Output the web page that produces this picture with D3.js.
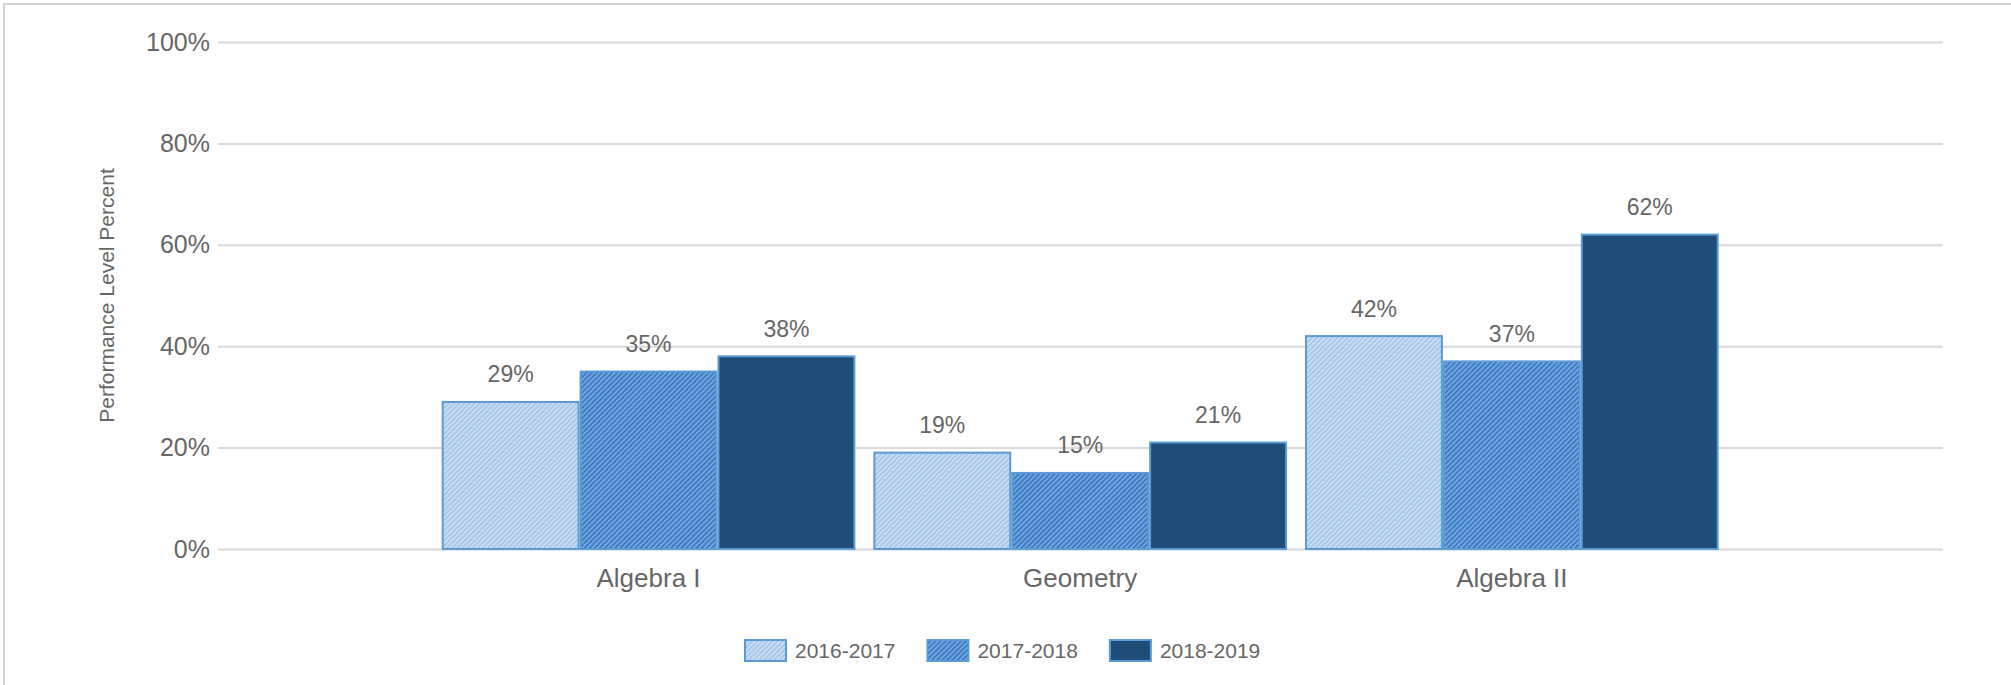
<!DOCTYPE html>
<html lang="en">
<head>
<meta charset="UTF-8">
<title>Performance Level Percent</title>
<script src="https://d3js.org/d3.v7.min.js"></script>
<style>
  html, body { margin: 0; padding: 0; background: #fff; }
  text { font-family: "Liberation Sans", Arial, sans-serif; fill: #666; }
</style>
</head>
<body>
<div id="chart"></div>
<script>
    // Data
    const categories = ["Algebra I", "Geometry", "Algebra II"];
    const years = ["2016-2017", "2017-2018", "2018-2019"];
    const values2016 = [29, 19, 42];
    const values2017 = [35, 15, 37];
    const values2018 = [38, 21, 62];
    const yTicks = [0, 20, 40, 60, 80, 100];

    const series = [values2016, values2017, values2018];
    const W = 2011, H = 685;
    const plot = {left: 218, right: 1943, top: 42, bottom: 549};

    const svg = d3.select("#chart").append("svg")
        .attr("width", W)
        .attr("height", H);

    // hatch patterns for the first two series
    const defs = svg.append("defs");
    function hatch(id, base, stripe) {
        const p = defs.append("pattern")
            .attr("id", id)
            .attr("patternUnits", "userSpaceOnUse")
            .attr("width", 3.6)
            .attr("height", 3.6)
            .attr("patternTransform", "rotate(45)");
        p.append("rect").attr("width", 3.6).attr("height", 3.6).attr("fill", base);
        p.append("rect").attr("width", 1.3).attr("height", 3.6).attr("fill", stripe);
    }
    hatch("hatch1", "#a9c7ea", "#d5e5f6");
    hatch("hatch2", "#3c7cc6", "#86b5e4");
    const fills = ["url(#hatch1)", "url(#hatch2)", "#1f4d78"];
    const stroke = "#5b9bd5";

    // outer frame (only top and left edges are visible)
    svg.append("rect")
        .attr("x", 4).attr("y", 4)
        .attr("width", W + 20).attr("height", H + 20)
        .attr("fill", "none")
        .attr("stroke", "#d4d4d4")
        .attr("stroke-width", 2);

    // scales
    const y = d3.scaleLinear().domain([0, 100]).range([plot.bottom, plot.top]);
    const x0 = d3.scaleBand()
        .domain(categories)
        .range([432.7, 1727.7])
        .paddingInner(18 / 432)
        .paddingOuter(9 / 432);
    const x1 = d3.scaleBand()
        .domain(years)
        .range([0, x0.bandwidth()])
        .padding(0);

    // Y axis: gridlines + labels
    const yAxis = svg.append("g")
        .attr("transform", `translate(${plot.left},0)`)
        .call(d3.axisLeft(y)
            .tickValues(yTicks)
            .tickSize(-(plot.right - plot.left))
            .tickPadding(8)
            .tickFormat(d => d + "%"));
    yAxis.select(".domain").remove();
    yAxis.selectAll(".tick line").attr("stroke", "#d9d9d9").attr("stroke-width", 2);
    yAxis.selectAll(".tick text")
        .style("font-size", "25px")
        .attr("fill", "#666");

    // Y axis title
    svg.append("text")
        .attr("transform", `translate(106,${(plot.top + plot.bottom) / 2}) rotate(-90)`)
        .attr("text-anchor", "middle")
        .attr("dominant-baseline", "central")
        .style("font-size", "21px")
        .text("Performance Level Percent");

    // X axis labels
    const xAxis = svg.append("g")
        .attr("transform", `translate(0,${plot.bottom})`)
        .call(d3.axisBottom(x0).tickSize(0).tickPadding(20));
    xAxis.select(".domain").remove();
    xAxis.selectAll(".tick text")
        .style("font-size", "26px")
        .attr("fill", "#666");

    // bars
    const rows = categories.map((c, i) => ({cat: c, vals: years.map((yr, j) => ({year: yr, s: j, v: series[j][i]}))}));
    const groups = svg.append("g").selectAll("g")
        .data(rows)
        .join("g")
        .attr("transform", d => `translate(${x0(d.cat)},0)`);

    groups.selectAll("rect")
        .data(d => d.vals)
        .join("rect")
        .attr("x", d => x1(d.year) + 1)
        .attr("y", d => y(d.v))
        .attr("width", x1.bandwidth() - 2)
        .attr("height", d => y(0) - y(d.v))
        .attr("fill", d => fills[d.s])
        .attr("stroke", stroke)
        .attr("stroke-width", 2);

    groups.selectAll("text.val")
        .data(d => d.vals)
        .join("text")
        .attr("class", "val")
        .attr("x", d => x1(d.year) + x1.bandwidth() / 2)
        .attr("y", d => y(d.v) - 19.5)
        .attr("text-anchor", "middle")
        .style("font-size", "23px")
        .text(d => d.v + "%");

    // legend
    const legend = svg.append("g");
    let cursor = 745;
    years.forEach((yr, j) => {
        legend.append("rect")
            .attr("x", cursor).attr("y", 640)
            .attr("width", 41).attr("height", 21)
            .attr("fill", fills[j])
            .attr("stroke", stroke)
            .attr("stroke-width", 2);
        const t = legend.append("text")
            .attr("x", cursor + 50)
            .attr("y", 650.5)
            .attr("dominant-baseline", "central")
            .style("font-size", "21px")
            .text(yr);
        cursor += 50 + t.node().getComputedTextLength() + 32;
    });
</script>
</body>
</html>
